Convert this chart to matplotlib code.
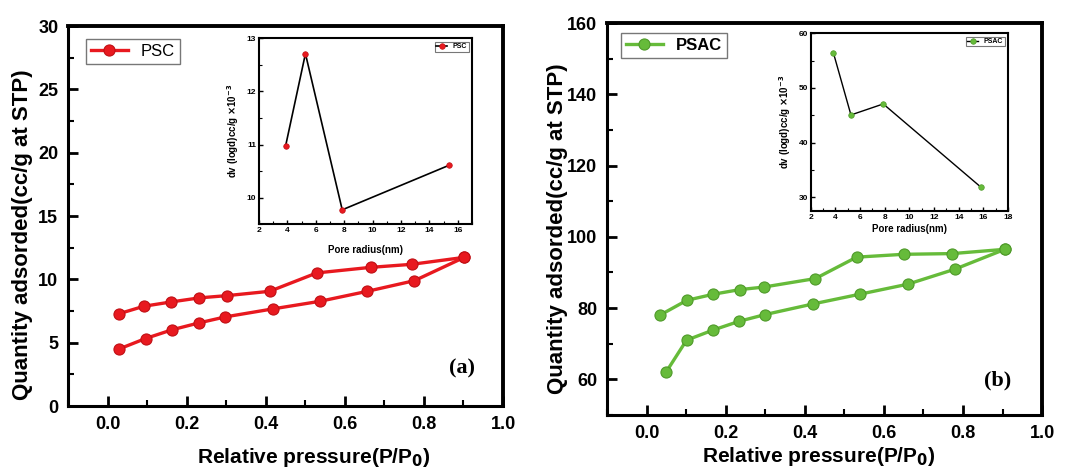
import matplotlib.pyplot as plt
from matplotlib.ticker import MultipleLocator

plt.rcParams['font.family'] = ['Liberation Sans', 'DejaVu Sans']
plt.rcParams['font.weight'] = 'bold'

# PSC isotherm (a)
psc_des_x = [0.028, 0.092, 0.161, 0.232, 0.303, 0.410, 0.529, 0.665, 0.769, 0.902]
psc_des_y = [7.28, 7.88, 8.22, 8.54, 8.72, 9.06, 10.51, 10.95, 11.19, 11.74]
psc_ads_x = [0.028, 0.096, 0.163, 0.232, 0.298, 0.418, 0.537, 0.657, 0.776, 0.902]
psc_ads_y = [4.49, 5.33, 6.02, 6.57, 7.04, 7.67, 8.27, 9.06, 9.90, 11.74]

# PSAC isotherm (b)
psac_des_x = [0.035, 0.102, 0.169, 0.236, 0.296, 0.427, 0.531, 0.650, 0.773, 0.906]
psac_des_y = [78.1, 82.2, 83.9, 85.2, 85.9, 88.3, 94.3, 95.1, 95.3, 96.5]
psac_ads_x = [0.049, 0.101, 0.167, 0.234, 0.300, 0.422, 0.539, 0.660, 0.779, 0.906]
psac_ads_y = [62.0, 71.0, 73.8, 76.3, 78.2, 81.2, 83.9, 86.7, 90.9, 96.5]

# pore size insets
psc_pore_r = [3.88, 5.27, 7.86, 15.39]
psc_pore_dv = [10.98, 12.71, 9.77, 10.61]
psac_pore_r = [3.83, 5.26, 7.88, 15.79]
psac_pore_dv = [56.46, 45.06, 47.07, 31.89]

red = '#e8191f'
green = '#66bb3a'

fig = plt.figure(figsize=(10.71, 4.67), dpi=100)


def style_main(ax):
    for s in ax.spines.values():
        s.set_linewidth(2.2)
    ax.spines['top'].set_linewidth(2.8)
    ax.spines['right'].set_linewidth(2.8)
    ax.tick_params(which='major', direction='in', length=7, width=2,
                   labelsize=13, top=False, right=False, pad=7)
    ax.tick_params(which='minor', direction='in', length=4, width=1.5,
                   top=False, right=False)
    for lab in ax.get_xticklabels() + ax.get_yticklabels():
        lab.set_fontweight('bold')


def style_inset(ax):
    for s in ax.spines.values():
        s.set_linewidth(1.5)
    ax.tick_params(which='major', direction='in', length=3, width=1,
                   labelsize=6, top=False, right=False, pad=2)
    ax.tick_params(which='minor', direction='in', length=2, width=0.8,
                   top=False, right=False)


# ---- panel (a)
ax1 = fig.add_axes([0.0635, 0.1306, 0.4062, 0.8134])
ax1.plot(psc_des_x, psc_des_y, '-o', color=red, lw=2.4, ms=8,
         mfc=red, mec='#c01015', mew=0.8, label='PSC')
ax1.plot(psc_ads_x, psc_ads_y, '-o', color=red, lw=2.4, ms=8,
         mfc=red, mec='#c01015', mew=0.8)
ax1.set_xlim(-0.1, 1.0)
ax1.set_ylim(0, 30)
ax1.xaxis.set_major_locator(MultipleLocator(0.2))
ax1.xaxis.set_minor_locator(MultipleLocator(0.1))
ax1.yaxis.set_major_locator(MultipleLocator(5))
ax1.yaxis.set_minor_locator(MultipleLocator(2.5))
ax1.set_xlabel('Relative pressure(P/P$_\\mathbf{0}$)', fontsize=15,
               fontweight='bold')
ax1.xaxis.set_label_coords(0.566, -0.105)
ax1.set_ylabel('Quantity adsorded(cc/g at STP)', fontsize=16,
               fontweight='bold')
ax1.yaxis.set_label_coords(-0.08, 0.45)
style_main(ax1)
leg = ax1.legend(loc='upper left', frameon=True, fancybox=False,
                 edgecolor='#555555', handlelength=2.2, borderpad=0.3,
                 borderaxespad=0, bbox_to_anchor=(0.041, 0.966),
                 prop={'weight': 'normal', 'size': 12})
leg.get_frame().set_linewidth(1.0)
ax1.text(0.905, 0.1, '(a)', transform=ax1.transAxes, fontsize=16,
         fontweight='bold', family='Liberation Serif', ha='center', va='center')

ins1 = fig.add_axes([0.2418, 0.520, 0.1990, 0.398])
ins1.plot(psc_pore_r, psc_pore_dv, '-o', color='black', lw=1.2, ms=4,
          mfc=red, mec='#c01015', mew=0.5, label='PSC')
ins1.set_xlim(2, 17)
ins1.set_ylim(9.5, 13)
ins1.xaxis.set_major_locator(MultipleLocator(2))
ins1.xaxis.set_minor_locator(MultipleLocator(1))
ins1.yaxis.set_major_locator(MultipleLocator(1))
ins1.yaxis.set_minor_locator(MultipleLocator(0.5))
ins1.set_xlabel('Pore radius(nm)', fontsize=7, fontweight='bold', labelpad=8)
ins1.set_ylabel('dv (logd)cc/g $\\times$10$^{-3}$', fontsize=7,
                fontweight='bold', labelpad=4)
style_inset(ins1)
l1 = ins1.legend(loc='upper right', fancybox=False, edgecolor='#555555',
                 handlelength=1.6, borderpad=0.2,
                 prop={'weight': 'bold', 'size': 5})
l1.get_frame().set_linewidth(0.8)

# ---- panel (b)
ax2 = fig.add_axes([0.5668, 0.1113, 0.4062, 0.8394])
ax2.plot(psac_des_x, psac_des_y, '-o', color=green, lw=2.4, ms=8,
         mfc=green, mec='#4f9a2a', mew=0.8, label='PSAC')
ax2.plot(psac_ads_x, psac_ads_y, '-o', color=green, lw=2.4, ms=8,
         mfc=green, mec='#4f9a2a', mew=0.8)
ax2.set_xlim(-0.1, 1.0)
ax2.set_ylim(50, 160)
ax2.xaxis.set_major_locator(MultipleLocator(0.2))
ax2.xaxis.set_minor_locator(MultipleLocator(0.1))
ax2.yaxis.set_major_locator(MultipleLocator(20))
ax2.yaxis.set_minor_locator(MultipleLocator(10))
ax2.set_yticks([60, 80, 100, 120, 140, 160])
ax2.set_xlabel('Relative pressure(P/P$_\\mathbf{0}$)', fontsize=15,
               fontweight='bold')
ax2.xaxis.set_label_coords(0.487, -0.077)
ax2.set_ylabel('Quantity adsorded(cc/g at STP)', fontsize=16,
               fontweight='bold')
ax2.yaxis.set_label_coords(-0.09, 0.475)
style_main(ax2)
leg2 = ax2.legend(loc='upper left', frameon=True, fancybox=False,
                  edgecolor='#555555', handlelength=2.2, borderpad=0.3,
                  borderaxespad=0, bbox_to_anchor=(0.032, 0.974),
                  prop={'weight': 'bold', 'size': 12})
leg2.get_frame().set_linewidth(1.0)
ax2.text(0.897, 0.089, '(b)', transform=ax2.transAxes, fontsize=16,
         fontweight='bold', family='Liberation Serif', ha='center', va='center')

ins2 = fig.add_axes([0.7570, 0.548, 0.1842, 0.381])
ins2.plot(psac_pore_r, psac_pore_dv, '-o', color='black', lw=1.0, ms=4,
          mfc=green, mec='#4f9a2a', mew=0.5, label='PSAC')
ins2.set_xlim(2, 18)
ins2.set_ylim(27.5, 60)
ins2.xaxis.set_major_locator(MultipleLocator(2))
ins2.xaxis.set_minor_locator(MultipleLocator(1))
ins2.yaxis.set_major_locator(MultipleLocator(10))
ins2.yaxis.set_minor_locator(MultipleLocator(5))
ins2.set_xlabel('Pore radius(nm)', fontsize=7, fontweight='bold', labelpad=2)
ins2.set_ylabel('dv (logd)cc/g $\\times$10$^{-3}$', fontsize=7,
                fontweight='bold', labelpad=4)
style_inset(ins2)
l2 = ins2.legend(loc='upper right', fancybox=False, edgecolor='#555555',
                 handlelength=1.6, borderpad=0.2,
                 prop={'weight': 'bold', 'size': 5})
l2.get_frame().set_linewidth(0.8)

fig.savefig('out.png', dpi=100)
